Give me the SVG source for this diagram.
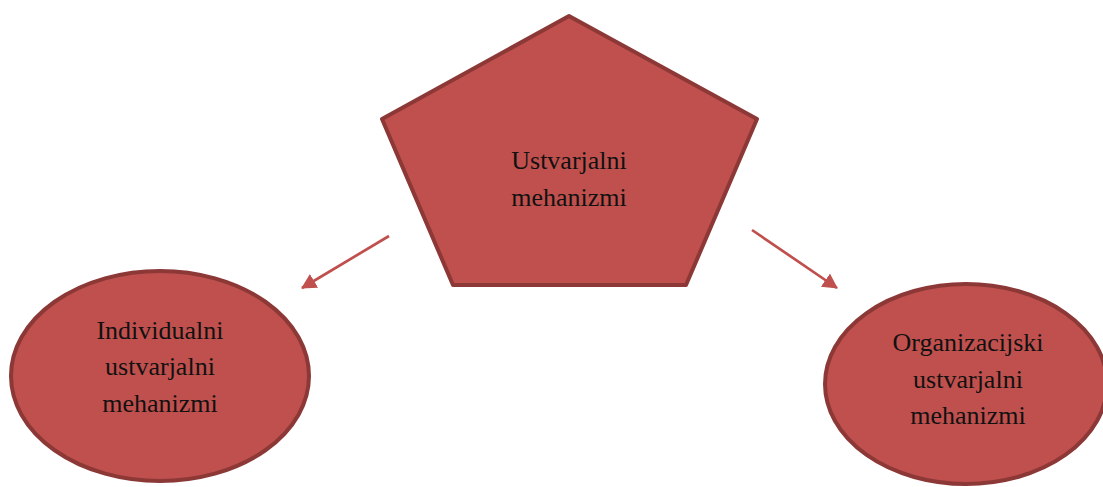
<svg xmlns="http://www.w3.org/2000/svg" width="1103" height="487" viewBox="0 0 1103 487">
  <style>
    .shape { fill: #C0504D; stroke: #8C3836; stroke-width: 4; stroke-linejoin: round; }
    .label { font-family: "Liberation Serif", "Times New Roman", serif; font-size: 26px; fill: #111; text-anchor: middle; }
    .link { stroke: #C0504D; stroke-width: 2.7; fill: none; marker-end: url(#head); }
  </style>
  <defs>
    <!-- filled triangular arrowhead, sized in user units -->
    <marker id="head" markerUnits="userSpaceOnUse" markerWidth="16" markerHeight="18" refX="14" refY="8" orient="auto">
      <path d="M0,0 L15,8 L0,16 Z" fill="#C0504D"/>
    </marker>
  </defs>

  <g id="connectors">
    <line class="link" x1="389" y1="236" x2="302" y2="288"/>
    <line class="link" x1="752" y1="230" x2="837" y2="288"/>
  </g>

  <g id="node-ustvarjalni">
    <polygon class="shape" points="569,16 757,119 686,285 453,285 382,119"/>
    <text class="label" x="569" y="169">Ustvarjalni</text>
    <text class="label" x="569" y="206">mehanizmi</text>
  </g>

  <g id="node-individualni">
    <ellipse class="shape" cx="160" cy="376" rx="149" ry="105"/>
    <text class="label" x="160" y="339">Individualni</text>
    <text class="label" x="160" y="375">ustvarjalni</text>
    <text class="label" x="160" y="412">mehanizmi</text>
  </g>

  <g id="node-organizacijski">
    <ellipse class="shape" cx="966" cy="384" rx="141" ry="100"/>
    <text class="label" x="968" y="351">Organizacijski</text>
    <text class="label" x="968" y="388">ustvarjalni</text>
    <text class="label" x="968" y="424">mehanizmi</text>
  </g>
</svg>
